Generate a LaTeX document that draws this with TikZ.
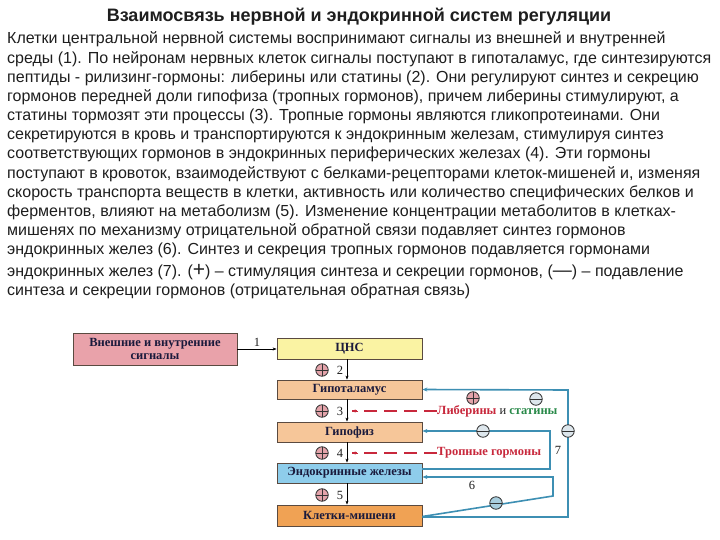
\documentclass[tikz,border=0pt]{standalone}
\usepackage{fontspec}
\setmainfont{Liberation Sans}
\newfontfamily\serf{Liberation Serif}
\usetikzlibrary{arrows.meta}
\definecolor{txtc}{HTML}{1E1E1E}
\definecolor{boxtxt}{HTML}{1A1A3C}
\definecolor{boxdraw}{HTML}{5A4A40}
\definecolor{pinkc}{HTML}{E9A2AA}
\definecolor{yellc}{HTML}{FAF3A3}
\definecolor{peachc}{HTML}{F6C699}
\definecolor{bluec}{HTML}{8ECDEB}
\definecolor{orangec}{HTML}{F0A254}
\definecolor{fbc}{HTML}{3D8FB3}
\definecolor{redc}{HTML}{C8283C}
\definecolor{greenc}{HTML}{2A8A4A}
\definecolor{plusc}{HTML}{E3A3AA}
\definecolor{minusc}{HTML}{DDE6EC}
\begin{document}
\begin{tikzpicture}[x=1pt,y=-1pt,
  txt/.style={anchor=base west,inner sep=0pt,text=txtc,font=\fontsize{16}{19}\selectfont},
  box/.style={draw=boxdraw,line width=0.8pt,minimum width=145pt,minimum height=20pt,inner sep=1pt,
    font=\serf\bfseries\fontsize{12.5}{13}\selectfont,text=boxtxt},
  num/.style={font=\serf\fontsize{12.5}{12.5}\selectfont,text=txtc,inner sep=0pt},
  arr/.style={-{Stealth[length=4pt,width=3pt]},line width=0.6pt,black},
  fb/.style={draw=fbc,line width=1.6pt},
  plus/.style={circle,draw=black!80,line width=0.8pt,fill=plusc,minimum size=12.5pt,inner sep=0pt,
    path picture={\draw[black!80,line width=0.8pt] (path picture bounding box.north) -- (path picture bounding box.south)
      (path picture bounding box.west) -- (path picture bounding box.east);}},
  minus/.style={circle,draw=black!80,line width=0.8pt,fill=minusc,minimum size=12.5pt,inner sep=0pt,
    path picture={\draw[black!80,line width=0.8pt] (path picture bounding box.west) -- (path picture bounding box.east);}},
  redline/.style={draw=redc,line width=1.2pt,dash pattern=on 13pt off 7pt},
  ]
\useasboundingbox (0,0) rectangle (720,540);
\fill[white] (0,0) rectangle (720,540);
% title
\node[anchor=base,inner sep=0pt,text=txtc,font=\fontsize{18}{21}\selectfont\bfseries] (title) at (359,22) {Взаимосвязь нервной и эндокринной систем регуляции};
% body
\node[txt] (l1) at (7,44) {Клетки центральной нервной системы воспринимают сигналы из внешней и внутренней};
\node[txt] (l2) at (7,63.2) {среды (1). По нейронам нервных клеток сигналы поступают в гипоталамус, где синтезируются};
\node[txt] (l3) at (7,82.3) {пептиды - рилизинг-гормоны: либерины или статины (2). Они регулируют синтез и секрецию};
\node[txt] (l4) at (7,101.5) {гормонов передней доли гипофиза (тропных гормонов), причем либерины стимулируют, а};
\node[txt] (l5) at (7,120.6) {статины тормозят эти процессы (3). Тропные гормоны являются гликопротеинами. Они};
\node[txt] (l6) at (7,139.8) {секретируются в кровь и транспортируются к эндокринным железам, стимулируя синтез};
\node[txt] (l7) at (7,158.9) {соответствующих гормонов в эндокринных периферических железах (4). Эти гормоны};
\node[txt] (l8) at (7,178.1) {поступают в кровоток, взаимодействуют с белками-рецепторами клеток-мишеней и, изменяя};
\node[txt] (l9) at (7,197.2) {скорость транспорта веществ в клетки, активность или количество специфических белков и};
\node[txt] (l10) at (7,216.4) {ферментов, влияют на метаболизм (5). Изменение концентрации метаболитов в клетках-};
\node[txt] (l11) at (7,235.5) {мишенях по механизму отрицательной обратной связи подавляет синтез гормонов};
\node[txt] (l12) at (7,254.7) {эндокринных желез (6). Синтез и секреция тропных гормонов подавляется гормонами};
\node[txt] (l13) at (7,276) {эндокринных желез (7). ({\fontsize{21}{21}\selectfont +}) – стимуляция синтеза и секреции гормонов, ({\fontsize{19}{19}\selectfont —}) – подавление};
\node[txt] (l14) at (7,295) {синтеза и секреции гормонов (отрицательная обратная связь)};
% boxes
\node[box,fill=pinkc,minimum width=164pt,minimum height=32pt,align=center,font=\serf\bfseries\fontsize{12.5}{12.5}\selectfont] (ext) at (155,349) {Внешние и внутренние\\сигналы};
\node[box,fill=yellc,minimum height=21pt] (cns) at (349.5,348.5) {ЦНС};
\node[box,fill=peachc,minimum height=19pt] (hyp) at (349.5,389.5) {Гипоталамус};
\node[box,fill=peachc] (pit) at (349.5,432) {Гипофиз};
\node[box,fill=bluec] (endo) at (349.5,473) {Эндокринные железы};
\node[box,fill=orangec,minimum height=21pt] (cell) at (349.5,515.5) {Клетки-мишени};
% arrow 1
\draw[arr] (ext.east) -- (ext.east -| cns.west);
\node[num] (n1) at (257,342) {1};
% vertical arrows
\draw[arr] ([xshift=-2.5pt]cns.south) -- ([xshift=-2.5pt]hyp.north);
\draw[arr] ([xshift=-2.5pt]hyp.south) -- ([xshift=-2.5pt]pit.north);
\draw[arr] ([xshift=-2.5pt]pit.south) -- ([xshift=-2.5pt]endo.north);
\draw[arr] ([xshift=-2.5pt]endo.south) -- ([xshift=-2.5pt]cell.north);
\node[plus] (p2) at (322,370) {}; \node[num] (n2) at (340,370) {2};
\node[plus] (p3) at (322,411) {}; \node[num] (n3) at (340,411) {3};
\node[plus] (p4) at (322,453) {}; \node[num] (n4) at (340,453) {4};
\node[plus] (p5) at (322,495) {}; \node[num] (n5) at (340,495) {5};
% red labels
\node[anchor=west,inner sep=0pt,font=\serf\bfseries\fontsize{12.5}{13}\selectfont,text=redc] (lib) at (437,411)
  {Либерины {\mdseries\color{txtc} и} {\color{greenc}статины}};
\node[anchor=west,inner sep=0pt,font=\serf\bfseries\fontsize{12.5}{13}\selectfont,text=redc] (trop) at (437,453) {Тропные гормоны};
\coordinate (r3) at (352,411);
\coordinate (r4) at (352,453);
\draw[redline] (lib.west) -- (r3);
\draw[draw=redc,line width=1.2pt] (lib.west) -- ++(-12,0);
\draw[redline] (trop.west) -- (r4);
\draw[draw=redc,line width=1.2pt] (trop.west) -- ++(-12,0);
\draw[-{Stealth[length=3.5pt,width=3pt]},redc,line width=0.8pt] (r3) ++(6,0) -- (r3);
\draw[-{Stealth[length=3.5pt,width=3pt]},redc,line width=0.8pt] (r4) ++(6,0) -- (r4);
% feedback loops
\draw[fb,-{Stealth[length=5pt,width=4pt]}] ([yshift=-1.5pt]cell.east) -- (568,517) -- (568,390) -- (hyp.east);
\draw[fb,-{Stealth[length=5pt,width=4pt]}] ([yshift=4pt]endo.east) -- (550,469) -- (550,431) -- ([yshift=1pt]pit.east);
\draw[fb,-{Stealth[length=5pt,width=4pt]}] ([yshift=-1pt]cell.east) -- (553,496) -- (553,477) -- ([yshift=-4pt]endo.east);
\node[minus] (m1) at (568,431) {};
\node[plus] (p6) at (473,398) {};
\node[minus] (m2) at (536,399) {};
\node[minus] (m3) at (483,431) {};
\node[minus,fill=fbc!45] (m4) at (496,503) {};
\node[num] (n7) at (558,450) {7};
\node[num] (n6) at (472,485) {6};
\end{tikzpicture}
\end{document}
